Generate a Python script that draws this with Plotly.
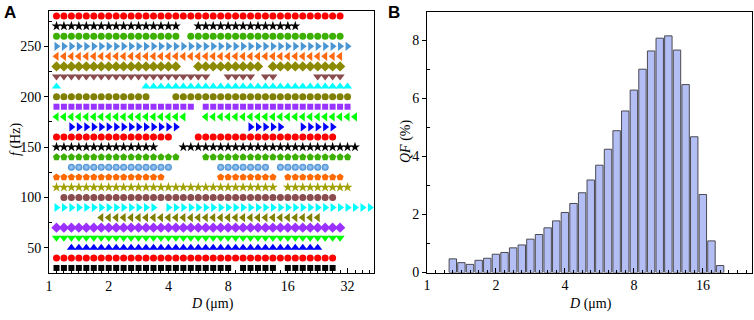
import plotly.graph_objects as go

# ---------------- data ----------------
# bin centres of the size classes (um), index k = 0..43
D_BINS = [1.000, 1.091, 1.189, 1.297, 1.414, 1.542, 1.682, 1.834,
          2.000, 2.181, 2.378, 2.594, 2.828, 3.084, 3.364, 3.668,
          4.000, 4.362, 4.757, 5.187, 5.657, 6.169, 6.727, 7.336,
          8.000, 8.724, 9.514, 10.375, 11.314, 12.338, 13.454, 14.672,
          16.000, 17.448, 19.027, 20.749, 22.627, 24.675, 26.909, 29.344,
          32.000, 34.896, 38.055, 41.499]

# Panel A: frequency rows and the size-class index ranges present in each
FREQS = [280, 270, 260, 250, 240, 230, 220, 210, 200, 190, 180, 170, 160,
         150, 140, 130, 120, 110, 100, 90, 80, 70, 60, 50, 40, 30]
SEGMENTS = [
    [(1, 39)],                                  # 280
    [(1, 17), (20, 33)],                        # 270
    [(1, 17), (19, 39)],                        # 260
    [(1, 40)],                                  # 250
    [(1, 39)],                                  # 240
    [(1, 17), (20, 28), (30, 39)],              # 230
    [(1, 21), (24, 27), (29, 30), (36, 39)],    # 220
    [(1, 1), (13, 40)],                         # 210
    [(1, 13), (17, 40)],                        # 200
    [(1, 19), (21, 40)],                        # 190
    [(1, 18), (21, 41)],                        # 180
    [(3, 17), (27, 31), (34, 38)],              # 170
    [(1, 16), (20, 38)],                        # 160
    [(1, 14), (18, 41)],                        # 150
    [(1, 17), (21, 40)],                        # 140
    [(3, 16), (23, 29), (31, 37)],              # 130
    [(1, 15), (23, 30), (32, 39)],              # 120
    [(1, 30), (32, 40)],                        # 110
    [(2, 38)],                                  # 100
    [(1, 14), (16, 43)],                        # 90
    [(7, 36)],                                  # 80
    [(1, 39)],                                  # 70
    [(1, 39)],                                  # 60
    [(3, 36)],                                  # 50
    [(1, 38)],                                  # 40
    [(1, 24), (26, 30), (32, 38)],              # 30
]

# Panel B: QF (%) per size class k = 3..34
QF_D = D_BINS[3:35]
QF = [0.47, 0.34, 0.28, 0.42, 0.49, 0.63, 0.69, 0.85, 0.95, 1.15, 1.31,
      1.54, 1.78, 2.07, 2.38, 2.75, 3.19, 3.70, 4.25, 4.89, 5.57, 6.29,
      7.01, 7.64, 8.08, 8.16, 7.67, 6.48, 4.68, 2.69, 1.09, 0.24]

X_TICKS_A = [1, 2, 4, 8, 16, 32]
X_TICKS_B = [1, 2, 4, 8, 16]
Y_TICKS_A = [50, 100, 150, 200, 250]
Y_TICKS_B = [0, 2, 4, 6, 8]

# ---------------- styles ----------------
STYLES = [
    ("circle", "#ff0000", 7),
    ("star", "#000000", 7.5),
    ("circle", "#3cb000", 7),
    ("triangle-right", "#4a96d2", 8),
    ("triangle-left", "#ff6a10", 8),
    ("diamond", "#8c8a00", 8),
    ("triangle-down", "#8a4c4c", 8),
    ("triangle-up", "#00ffff", 8),
    ("circle", "#808000", 7),
    ("square", "#9933ff", 6),
    ("triangle-left", "#00ff00", 8),
    ("triangle-right", "#0000ff", 8),
    ("circle", "#ff0000", 7),
    ("star", "#000000", 7.5),
    ("pentagon", "#3cb000", 7.5),
    ("circle", "#4a8ed0", 7),
    ("pentagon", "#ff6a00", 7.5),
    ("star", "#a0a000", 7.5),
    ("circle", "#8a4c4c", 7),
    ("triangle-right", "#00ffff", 8),
    ("triangle-left", "#808000", 8),
    ("diamond", "#9b30ff", 8),
    ("triangle-down", "#00ff00", 8),
    ("triangle-up", "#0000ff", 8),
    ("circle", "#ff0000", 7),
    ("square", "#000000", 6),
]

fig = go.Figure()

for f, segs, (sym, col, sz) in zip(FREQS, SEGMENTS, STYLES):
    xs = []
    for a, b in segs:
        xs += D_BINS[a:b + 1]
    marker = dict(symbol=sym, color=col, size=sz, line=dict(width=0))
    if f == 130:
        marker["gradient"] = dict(type="radial", color="#a8d2fa")
    fig.add_trace(go.Scatter(x=xs, y=[f] * len(xs), mode="markers",
                             marker=marker, xaxis="x", yaxis="y",
                             hoverinfo="skip"))

# bar widths: 86 % of one 1/8-octave bin, expressed in linear units
half = 0.86 / 16
widths = [d * (2 ** half - 2 ** (-half)) for d in QF_D]
fig.add_trace(go.Bar(x=QF_D, y=QF, width=widths, xaxis="x2", yaxis="y2",
                     marker=dict(color="#b3bef4",
                                 line=dict(color="#4a4a52", width=1))))

serif = "Liberation Serif"
tickfont = dict(family=serif, size=14, color="black")

minor_A = [D_BINS[k] for k in range(1, 44) if k % 8 != 0]
minor_B = [D_BINS[k] for k in range(1, 38) if k % 8 != 0]

axis_common = dict(showline=True, linecolor="black", linewidth=1, mirror=True,
                   showgrid=False, zeroline=False, tickcolor="black",
                   tickfont=tickfont, automargin=False)

fig.update_layout(
    template="none",
    width=754, height=320,
    margin=dict(l=0, r=0, t=0, b=0, pad=0),
    paper_bgcolor="white", plot_bgcolor="white",
    showlegend=False,
    xaxis=dict(domain=[49 / 754, 374 / 754], type="log",
               range=[0, 1.6385], tickmode="array", tickvals=X_TICKS_A,
               ticktext=[str(v) for v in X_TICKS_A], anchor="y",
               ticks="inside", ticklen=5,
               minor=dict(tickmode="array", tickvals=minor_A, ticks="inside",
                          ticklen=3, tickcolor="black"),
               **axis_common),
    yaxis=dict(domain=[47 / 320, 309 / 320], range=[25, 285],
               tickmode="array", tickvals=Y_TICKS_A, anchor="x",
               ticks="outside", ticklen=4,
               minor=dict(tickmode="array", tickvals=[75, 125, 175, 225, 275],
                          ticks="inside", ticklen=3, tickcolor="black"),
               **axis_common),
    xaxis2=dict(domain=[427 / 754, 752 / 754], type="log",
                range=[0, 1.4183], tickmode="array", tickvals=X_TICKS_B,
                ticktext=[str(v) for v in X_TICKS_B], anchor="y2",
                ticks="inside", ticklen=5,
                minor=dict(tickmode="array", tickvals=minor_B, ticks="inside",
                           ticklen=3, tickcolor="black"),
                **axis_common),
    yaxis2=dict(domain=[47.5 / 320, 308.5 / 320], range=[0, 9],
                tickmode="array", tickvals=Y_TICKS_B, anchor="x2",
                ticks="outside", ticklen=4,
                minor=dict(tickmode="array", tickvals=[1, 3, 5, 7],
                           ticks="inside", ticklen=3, tickcolor="black"),
                **axis_common),
)

title_font = dict(family=serif, size=14, color="black")
label_font = dict(family="Liberation Sans", size=17, color="black")
ann = [
    dict(text="<b>A</b>", x=9.5 / 754, y=1 - 12.5 / 320, font=label_font),
    dict(text="<b>B</b>", x=393.5 / 754, y=1 - 12.5 / 320, font=label_font),
    dict(text="<i>D</i> (μm)", x=212 / 754, y=1 - 304 / 320, font=title_font),
    dict(text="<i>D</i> (μm)", x=590 / 754, y=1 - 304 / 320, font=title_font),
    dict(text="<i>f</i> (Hz)", x=16 / 754, y=1 - 140 / 320, font=title_font,
         textangle=-90),
    dict(text="<i>QF</i> (%)", x=406 / 754, y=1 - 142 / 320, font=title_font,
         textangle=-90),
]
for a in ann:
    fig.add_annotation(xref="paper", yref="paper", showarrow=False,
                       xanchor="center", yanchor="middle", **a)

fig.write_html("out.html",
               config={"displayModeBar": False},
               post_script="document.body.style.margin='0';"
                           "document.body.style.overflow='hidden';")
